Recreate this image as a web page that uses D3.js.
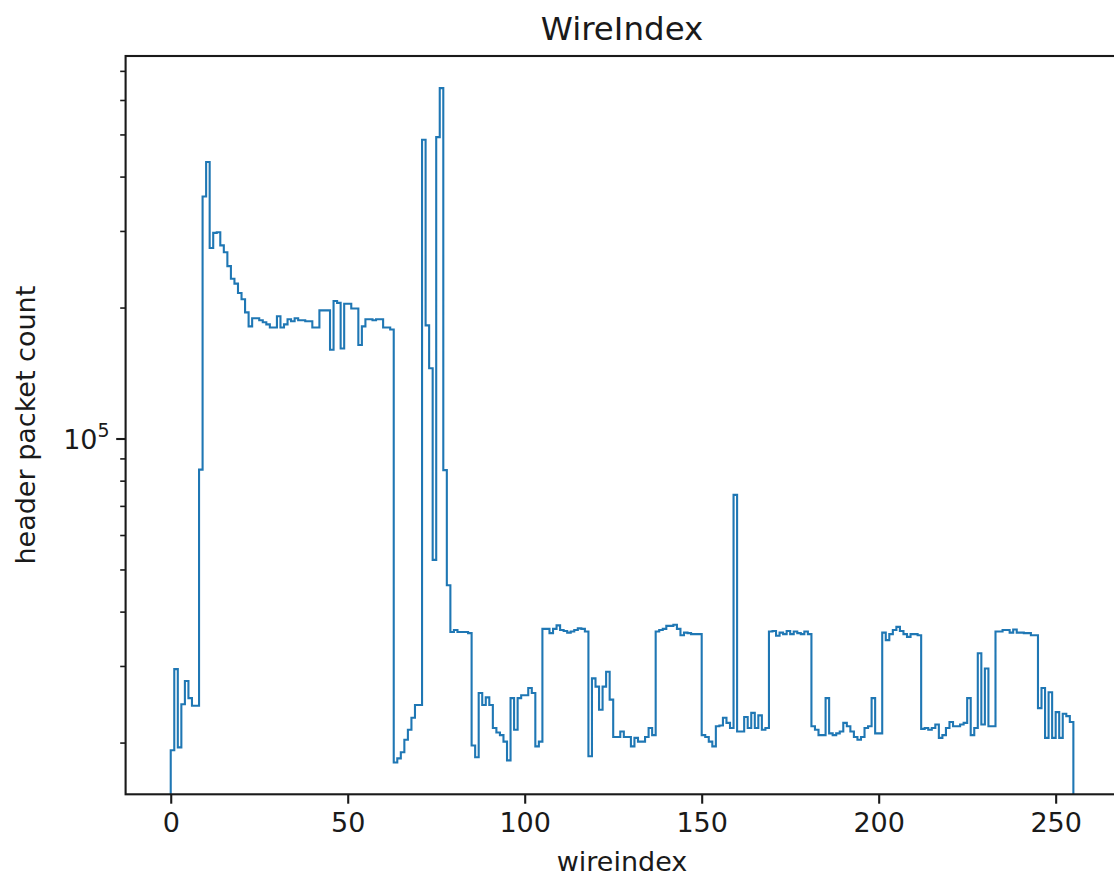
<!DOCTYPE html>
<html>
<head>
<meta charset="utf-8">
<script src="https://cdn.jsdelivr.net/npm/d3@7"></script>
<style>
  body { margin: 0; background: #fff; }
  svg { display: block; font-family: "DejaVu Sans", sans-serif; }
</style>
</head>
<body>
<div id="chart"></div>
<script>
// header packet count per wire, bins 0..254 (each bin is one wire index)
const counts = [
  19200, 29500, 19500, 24500, 27700, 25300, 24300, 24300, 84800, 360000,
  432000, 274000, 297000, 298000, 278000, 268000, 249000, 233000, 227000, 216000,
  209000, 195000, 181000, 189000, 189000, 187000, 185000, 183000, 180000, 180000,
  191000, 180000, 183000, 188000, 186000, 189000, 187000, 187000, 186000, 186000,
  180000, 180000, 197000, 197000, 197000, 160000, 207000, 205000, 161000, 204000,
  204000, 199000, 199000, 164000, 181000, 188000, 188000, 187000, 188000, 188000,
  180000, 180000, 178000, 18000, 18400, 19000, 20300, 21400, 22800, 24400,
  24400, 486000, 182000, 145000, 52600, 493000, 639000, 84600, 46000, 35900,
  36300, 35900, 35900, 35900, 35700, 19700, 18500, 26000, 24400, 25400,
  24400, 21600, 21100, 20800, 20100, 18200, 25300, 21400, 25300, 25700,
  25700, 26700, 26000, 19600, 20100, 36500, 36500, 35700, 36500, 37200,
  36300, 36100, 35800, 36000, 36300, 36600, 36500, 36000, 18600, 28100,
  26900, 23800, 26900, 29100, 25100, 20600, 20600, 21200, 20600, 20600,
  19600, 20500, 20100, 20100, 20600, 21600, 20800, 36000, 36300, 36500,
  37100, 37100, 37300, 36500, 35300, 35800, 35700, 35500, 35500, 35500,
  20800, 20600, 20100, 19600, 21800, 21900, 22800, 22200, 21600, 74200,
  21200, 21200, 22900, 21600, 23400, 21600, 23100, 21400, 21600, 36000,
  36100, 35200, 35800, 35500, 36100, 35500, 36000, 35700, 35500, 36000,
  35500, 21800, 21400, 20800, 20800, 25300, 21000, 20800, 21000, 21200,
  22200, 21800, 21200, 20600, 20300, 20600, 21600, 21800, 25300, 21000,
  21000, 35800, 34400, 35500, 36300, 36900, 36100, 35500, 35000, 35500,
  35500, 35300, 21500, 21600, 21400, 21600, 22000, 20500, 20800, 21600,
  22300, 21800, 21800, 22000, 22200, 25300, 20800, 21600, 32100, 22000,
  29600, 21800, 21800, 36000, 36000, 36300, 36300, 35800, 36400, 35800,
  35800, 35700, 35700, 35300, 35300, 24000, 26700, 20500, 26100, 20500,
  23500, 20500, 23300, 23000, 22300
];
const xTicks = [0, 50, 100, 150, 200, 250];
const yMajorTicks = [1e5];
const yMinorTicks = [2e4, 3e4, 4e4, 5e4, 6e4, 7e4, 8e4, 9e4, 2e5, 3e5, 4e5, 5e5, 6e5, 7e5];

const width = 1114;
const height = 882;
const plot = { left: 125.6, right: 1118.5, top: 56, bottom: 794.3 };
const ink = "#1a1a1a";
const lineColour = "#1f77b4";

const svg = d3.select("#chart").append("svg")
    .attr("width", width)
    .attr("height", height);

const x = d3.scaleLinear()
    .domain([-12.75, 267.75])
    .range([plot.left, plot.right]);

const y = d3.scaleLog()
    .domain([15210, 757300])
    .range([plot.bottom, plot.top]);

svg.append("clipPath").attr("id", "plotClip")
    .append("rect")
    .attr("x", plot.left).attr("y", plot.top)
    .attr("width", plot.right - plot.left)
    .attr("height", plot.bottom - plot.top);

// --- Step outline of the histogram ---
const pts = [[0, null]];
counts.forEach((c, i) => {
    pts.push([i, c]);
    pts.push([i + 1, c]);
});
pts.push([counts.length, null]);

const line = d3.line()
    .x(d => x(d[0]))
    .y(d => d[1] === null ? plot.bottom + 10 : y(d[1]));

svg.append("path")
    .attr("clip-path", "url(#plotClip)")
    .attr("d", line(pts))
    .attr("fill", "none")
    .attr("stroke", lineColour)
    .attr("stroke-width", 2.1)
    .attr("stroke-linejoin", "miter");

// --- Axes ---
const xAxis = svg.append("g")
    .attr("transform", `translate(0,${plot.bottom})`)
    .call(d3.axisBottom(x).tickValues(xTicks).tickSize(9.4).tickPadding(9.4));

xAxis.select(".domain").remove();
xAxis.selectAll(".tick line").attr("stroke", ink).attr("stroke-width", 2.1);
xAxis.selectAll(".tick text")
    .attr("fill", ink)
    .attr("font-size", 27)
    .attr("font-family", "DejaVu Sans");

const yMinor = svg.append("g")
    .attr("transform", `translate(${plot.left},0)`)
    .call(d3.axisLeft(y).tickValues(yMinorTicks).tickSize(5.4).tickFormat(""));
yMinor.select(".domain").remove();
yMinor.selectAll(".tick line").attr("stroke", ink).attr("stroke-width", 1.6);

const yMajor = svg.append("g")
    .attr("transform", `translate(${plot.left},0)`)
    .call(d3.axisLeft(y).tickValues(yMajorTicks).tickSize(9.4).tickFormat(""));
yMajor.select(".domain").remove();
yMajor.selectAll(".tick line").attr("stroke", ink).attr("stroke-width", 2.1);

// 10^5 label
const expLabel = svg.append("g")
    .selectAll("text")
    .data(yMajorTicks)
    .join("text")
    .attr("x", plot.left - 16)
    .attr("y", d => y(d) + 10)
    .attr("text-anchor", "end")
    .attr("fill", ink)
    .attr("font-size", 27);
expLabel.append("tspan").text("10");
expLabel.append("tspan")
    .attr("font-size", 19)
    .attr("dy", -12)
    .text(d => Math.round(Math.log10(d)));

// spines
svg.append("rect")
    .attr("x", plot.left).attr("y", plot.top)
    .attr("width", plot.right - plot.left)
    .attr("height", plot.bottom - plot.top)
    .attr("fill", "none")
    .attr("stroke", ink)
    .attr("stroke-width", 2.1);

// --- Text ---
svg.append("text")
    .attr("x", (plot.left + plot.right) / 2)
    .attr("y", 40)
    .attr("text-anchor", "middle")
    .attr("fill", ink)
    .attr("font-size", 32.5)
    .text("WireIndex");

svg.append("text")
    .attr("x", (plot.left + plot.right) / 2)
    .attr("y", 871)
    .attr("text-anchor", "middle")
    .attr("fill", ink)
    .attr("font-size", 27)
    .text("wireindex");

svg.append("text")
    .attr("transform", `translate(35,${(plot.top + plot.bottom) / 2}) rotate(-90)`)
    .attr("text-anchor", "middle")
    .attr("fill", ink)
    .attr("font-size", 27)
    .text("header packet count");
</script>
</body>
</html>
